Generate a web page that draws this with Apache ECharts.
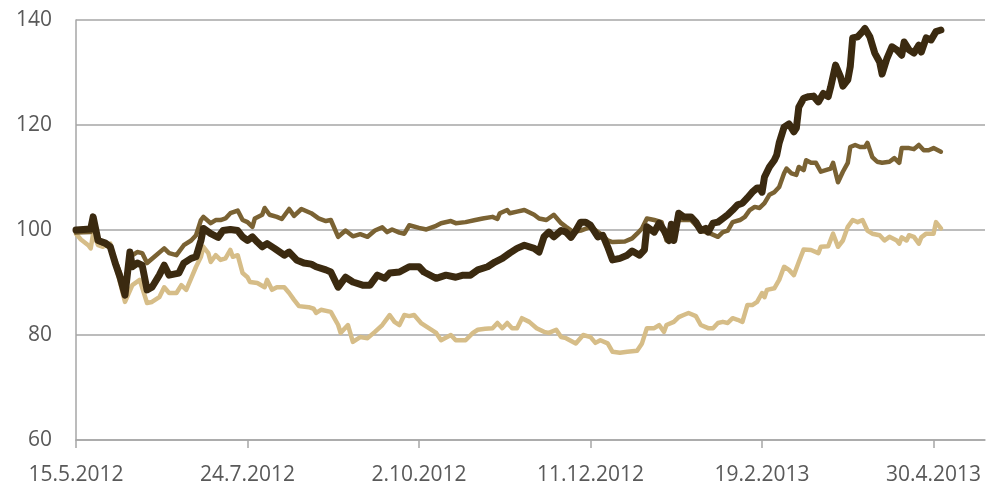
<!DOCTYPE html>
<html>
<head>
<meta charset="utf-8">
<script src="https://cdn.jsdelivr.net/npm/echarts@6/dist/echarts.min.js"></script>
<style>
  html, body { margin: 0; padding: 0; background: #fff; }
  #chart { width: 987px; height: 488px; }
</style>
</head>
<body>
<div id="chart"></div>
<script>
// x values are days counted from 15.5.2012
var startDate = Date.UTC(2012, 4, 15);
var tickDays = [0, 70, 140, 210, 280, 350];
var yTicks = [60, 80, 100, 120, 140];

var darkDays = [0, 6, 7, 9, 12, 14, 16, 18, 20, 22, 23, 25, 27, 29, 31, 34, 36, 38, 42, 44, 47, 49, 51, 52, 55, 58, 60, 63, 66, 68, 70, 72, 74, 76, 78, 81, 85, 87, 90, 93, 96, 98, 102, 104, 107, 110, 113, 117, 120, 123, 126, 128, 132, 136, 140, 142, 147, 151, 155, 158, 161, 164, 168, 171, 174, 177, 180, 183, 187, 189, 191, 193, 195, 198, 200, 202, 204, 206, 208, 210, 213, 215, 217, 219, 222, 225, 227, 230, 232, 233, 236, 238, 240, 242, 243, 244, 246, 248, 251, 253, 255, 257, 258, 260, 262, 264, 266, 268, 270, 272, 274, 276, 278, 279, 280, 281, 283, 285, 286, 287, 289, 291, 293, 294, 295, 297, 299, 301, 303, 305, 307, 308, 310, 312, 313, 315, 316, 317, 319, 321, 322, 324, 326, 328, 329, 331, 333, 335, 337, 338, 340, 342, 344, 345, 347, 349, 351, 353];
var darkVals = [100, 100.2, 102.5, 98, 97.5, 96.8, 93.7, 91, 87.6, 95.8, 93, 93.7, 93.3, 88.6, 89.1, 91.4, 93.3, 91.4, 91.8, 93.7, 94.6, 94.9, 98, 100.3, 99.3, 98.6, 99.9, 100.1, 99.9, 98.7, 98, 98.7, 97.7, 96.8, 97.4, 96.5, 95.2, 95.8, 94.3, 93.7, 93.5, 93, 92.4, 92, 89.1, 91, 90.1, 89.5, 89.5, 91.4, 90.8, 91.8, 92, 93, 93, 92, 90.8, 91.4, 91, 91.4, 91.4, 92.4, 93, 93.9, 94.6, 95.6, 96.5, 97.1, 96.5, 95.8, 98.7, 99.6, 98.7, 99.9, 99.6, 98.6, 99.9, 101.5, 101.5, 100.9, 98.7, 99, 96.8, 94.3, 94.6, 95.2, 96, 95.2, 96.2, 100.6, 99.6, 101.3, 99.9, 98, 101.1, 98, 103.2, 102.5, 102.5, 101.5, 99.9, 100.3, 99.6, 101.3, 101.5, 102.2, 102.9, 103.8, 104.8, 105.1, 106.1, 107.2, 108, 108, 107.2, 110.1, 112, 113.3, 114.3, 116.6, 119.6, 120.2, 118.7, 119.4, 123.4, 125.1, 125.4, 125.5, 124.4, 126, 125.4, 127.2, 131.4, 129.2, 127.4, 128.6, 131.1, 136.6, 136.8, 137.8, 138.4, 136.8, 133.7, 132, 129.7, 132.7, 134.9, 134.3, 133.3, 135.8, 134.3, 133.7, 135.2, 133.9, 136.6, 136.2, 137.8, 138.1];

var midDays = [0, 6, 7, 9, 12, 14, 16, 18, 20, 22, 25, 27, 29, 32, 36, 38, 41, 44, 47, 49, 51, 52, 55, 57, 59, 61, 63, 66, 68, 70, 72, 73, 76, 77, 79, 82, 84, 87, 89, 92, 96, 99, 102, 104, 107, 110, 113, 116, 119, 122, 125, 127, 129, 132, 134, 136, 140, 143, 147, 149, 153, 155, 159, 163, 166, 170, 172, 173, 176, 177, 180, 183, 187, 189, 192, 195, 198, 200, 203, 206, 210, 214, 217, 219, 224, 227, 229, 231, 233, 236, 239, 241, 243, 246, 251, 255, 259, 262, 264, 266, 268, 271, 273, 275, 277, 279, 281, 283, 285, 287, 289, 290, 292, 294, 295, 297, 298, 300, 302, 304, 306, 308, 309, 311, 313, 315, 316, 318, 320, 322, 323, 325, 327, 329, 332, 334, 336, 337, 340, 342, 344, 346, 348, 350, 353];
var midVals = [99.5, 99.6, 101.8, 97.8, 97.2, 96.6, 94.3, 91.8, 88, 94.9, 95.8, 95.6, 93.7, 94.9, 96.5, 95.6, 95.2, 97.1, 98, 99, 101.9, 102.5, 101.3, 101.9, 101.9, 102.2, 103.2, 103.7, 101.9, 101.5, 100.6, 102.2, 102.9, 104.2, 102.9, 102.5, 102.1, 104, 102.7, 104, 103.2, 102.2, 101.7, 101.9, 98.7, 99.9, 98.8, 99.2, 98.7, 99.9, 100.5, 99.6, 100.1, 99.5, 99.3, 100.9, 100.4, 100.1, 100.8, 101.3, 101.7, 101.3, 101.5, 101.9, 102.2, 102.5, 102.1, 103.2, 103.8, 103.2, 103.5, 103.8, 102.9, 102.2, 101.9, 102.9, 101.3, 100.6, 99.6, 99.9, 100.6, 99.3, 98, 97.7, 97.8, 98.4, 99.3, 100.3, 102.2, 101.9, 101.5, 98, 99.3, 101.9, 101.9, 99.9, 99.3, 98.7, 99.6, 99.9, 101.5, 101.9, 102.5, 103.8, 104.4, 104.2, 105.1, 106.7, 107.2, 108.2, 110.8, 111.7, 110.8, 110.5, 112, 111.4, 113.3, 112.8, 112.8, 111.1, 111.4, 111.7, 112.8, 109.1, 111.1, 112.8, 115.8, 116.2, 115.8, 115.8, 116.6, 113.9, 113, 112.8, 113, 113.7, 112.8, 115.6, 115.6, 115.4, 116.2, 115.2, 115.2, 115.6, 114.9];

var lightDays = [0, 2, 5, 6, 7, 9, 11, 14, 16, 18, 20, 23, 26, 29, 31, 34, 36, 38, 41, 43, 45, 47, 49, 51, 52, 54, 55, 57, 59, 61, 63, 64, 66, 68, 70, 71, 74, 77, 78, 80, 82, 85, 87, 89, 91, 95, 97, 98, 100, 104, 107, 108, 111, 113, 116, 119, 122, 125, 128, 130, 132, 134, 136, 138, 141, 144, 147, 149, 153, 155, 159, 162, 164, 167, 170, 172, 174, 176, 178, 180, 182, 185, 188, 191, 193, 196, 198, 200, 204, 207, 210, 212, 214, 217, 219, 222, 225, 229, 231, 233, 236, 238, 240, 241, 244, 246, 248, 250, 253, 255, 258, 260, 262, 264, 266, 268, 270, 272, 274, 276, 278, 280, 281, 282, 285, 287, 289, 291, 293, 295, 297, 300, 303, 304, 307, 309, 311, 313, 315, 317, 319, 321, 323, 325, 328, 330, 332, 335, 336, 337, 339, 340, 342, 344, 345, 347, 350, 351, 353];
var lightVals = [99.3, 98.2, 97.1, 96.5, 99.3, 97.1, 96.8, 97.4, 93.7, 89.9, 86.3, 89.5, 90.5, 86.1, 86.3, 87.2, 89.1, 88, 88, 89.5, 88.6, 90.8, 93, 94.9, 96.8, 95.6, 93.9, 95.2, 94.3, 94.6, 96.2, 94.9, 95.2, 91.8, 91, 90.1, 89.9, 89.1, 90.5, 88.6, 89.1, 89.1, 88, 86.7, 85.5, 85.3, 85, 84.2, 84.8, 84.4, 81.9, 80.4, 81.9, 78.7, 79.6, 79.4, 80.6, 81.9, 83.8, 82.5, 81.9, 83.8, 83.6, 83.8, 82.2, 81.3, 80.4, 79, 80, 79, 79, 80.4, 81, 81.2, 81.3, 82.3, 81.3, 82.3, 81.3, 81.3, 83.2, 82.5, 81.3, 80.6, 80.4, 81, 79.6, 79.4, 78.4, 80, 79.6, 78.5, 79, 78.4, 76.8, 76.6, 76.8, 77, 78.4, 81.3, 81.3, 81.9, 80.6, 81.9, 82.5, 83.4, 83.8, 84.2, 83.6, 81.9, 81.3, 81.3, 82.3, 82.5, 82.3, 83.2, 82.9, 82.5, 85.7, 85.7, 86.3, 88, 87.2, 88.6, 88.9, 90.5, 93, 92.4, 91.4, 93.9, 96.3, 96.2, 95.6, 96.8, 96.9, 99.3, 96.8, 98, 100.6, 101.9, 101.5, 101.9, 99.9, 99.3, 99, 98, 98.7, 98, 97.4, 98.6, 98, 99, 98.7, 97.4, 98.6, 99.3, 99.3, 101.5, 100.3];

function pairs(days, vals) {
  return days.map(function (d, i) { return [d, vals[i]]; });
}

function dayLabel(d) {
  var dt = new Date(startDate + d * 86400000);
  return dt.getUTCDate() + '.' + (dt.getUTCMonth() + 1) + '.' + dt.getUTCFullYear();
}

var gridColor = '#a6a6a6';
var chart = echarts.init(document.getElementById('chart'));

chart.setOption({
  animation: false,
  backgroundColor: '#ffffff',
  grid: { left: 76, right: 2, top: 20, bottom: 48 },
  xAxis: {
    type: 'value',
    min: 0,
    max: 371,
    axisLine: { show: true, lineStyle: { color: gridColor, width: 1.5 } },
    axisTick: {
      show: true,
      length: 8,
      customValues: tickDays,
      lineStyle: { color: gridColor, width: 1.5 }
    },
    axisLabel: {
      customValues: tickDays,
      formatter: dayLabel,
      margin: 25,
      color: '#595959',
      fontSize: 21,
      fontFamily: 'Open Sans'
    },
    splitLine: { show: false }
  },
  yAxis: {
    type: 'value',
    min: 60,
    max: 140,
    interval: 20,
    axisLine: { show: true, lineStyle: { color: gridColor, width: 1.5 } },
    axisTick: { show: false },
    axisLabel: {
      margin: 24,
      color: '#595959',
      fontSize: 21,
      fontFamily: 'Open Sans'
    },
    splitLine: { show: true, lineStyle: { color: gridColor, width: 1.5 } }
  },
  series: [
    {
      name: 'light',
      type: 'line',
      data: pairs(lightDays, lightVals),
      showSymbol: false,
      lineStyle: { color: '#d6bd88', width: 4.5, join: 'round', cap: 'round' }
    },
    {
      name: 'mid',
      type: 'line',
      data: pairs(midDays, midVals),
      showSymbol: false,
      lineStyle: { color: '#7a6233', width: 4.5, join: 'round', cap: 'round' }
    },
    {
      name: 'dark',
      type: 'line',
      data: pairs(darkDays, darkVals),
      showSymbol: false,
      lineStyle: { color: '#3b2a10', width: 7, join: 'round', cap: 'round' }
    }
  ]
});
</script>
</body>
</html>
